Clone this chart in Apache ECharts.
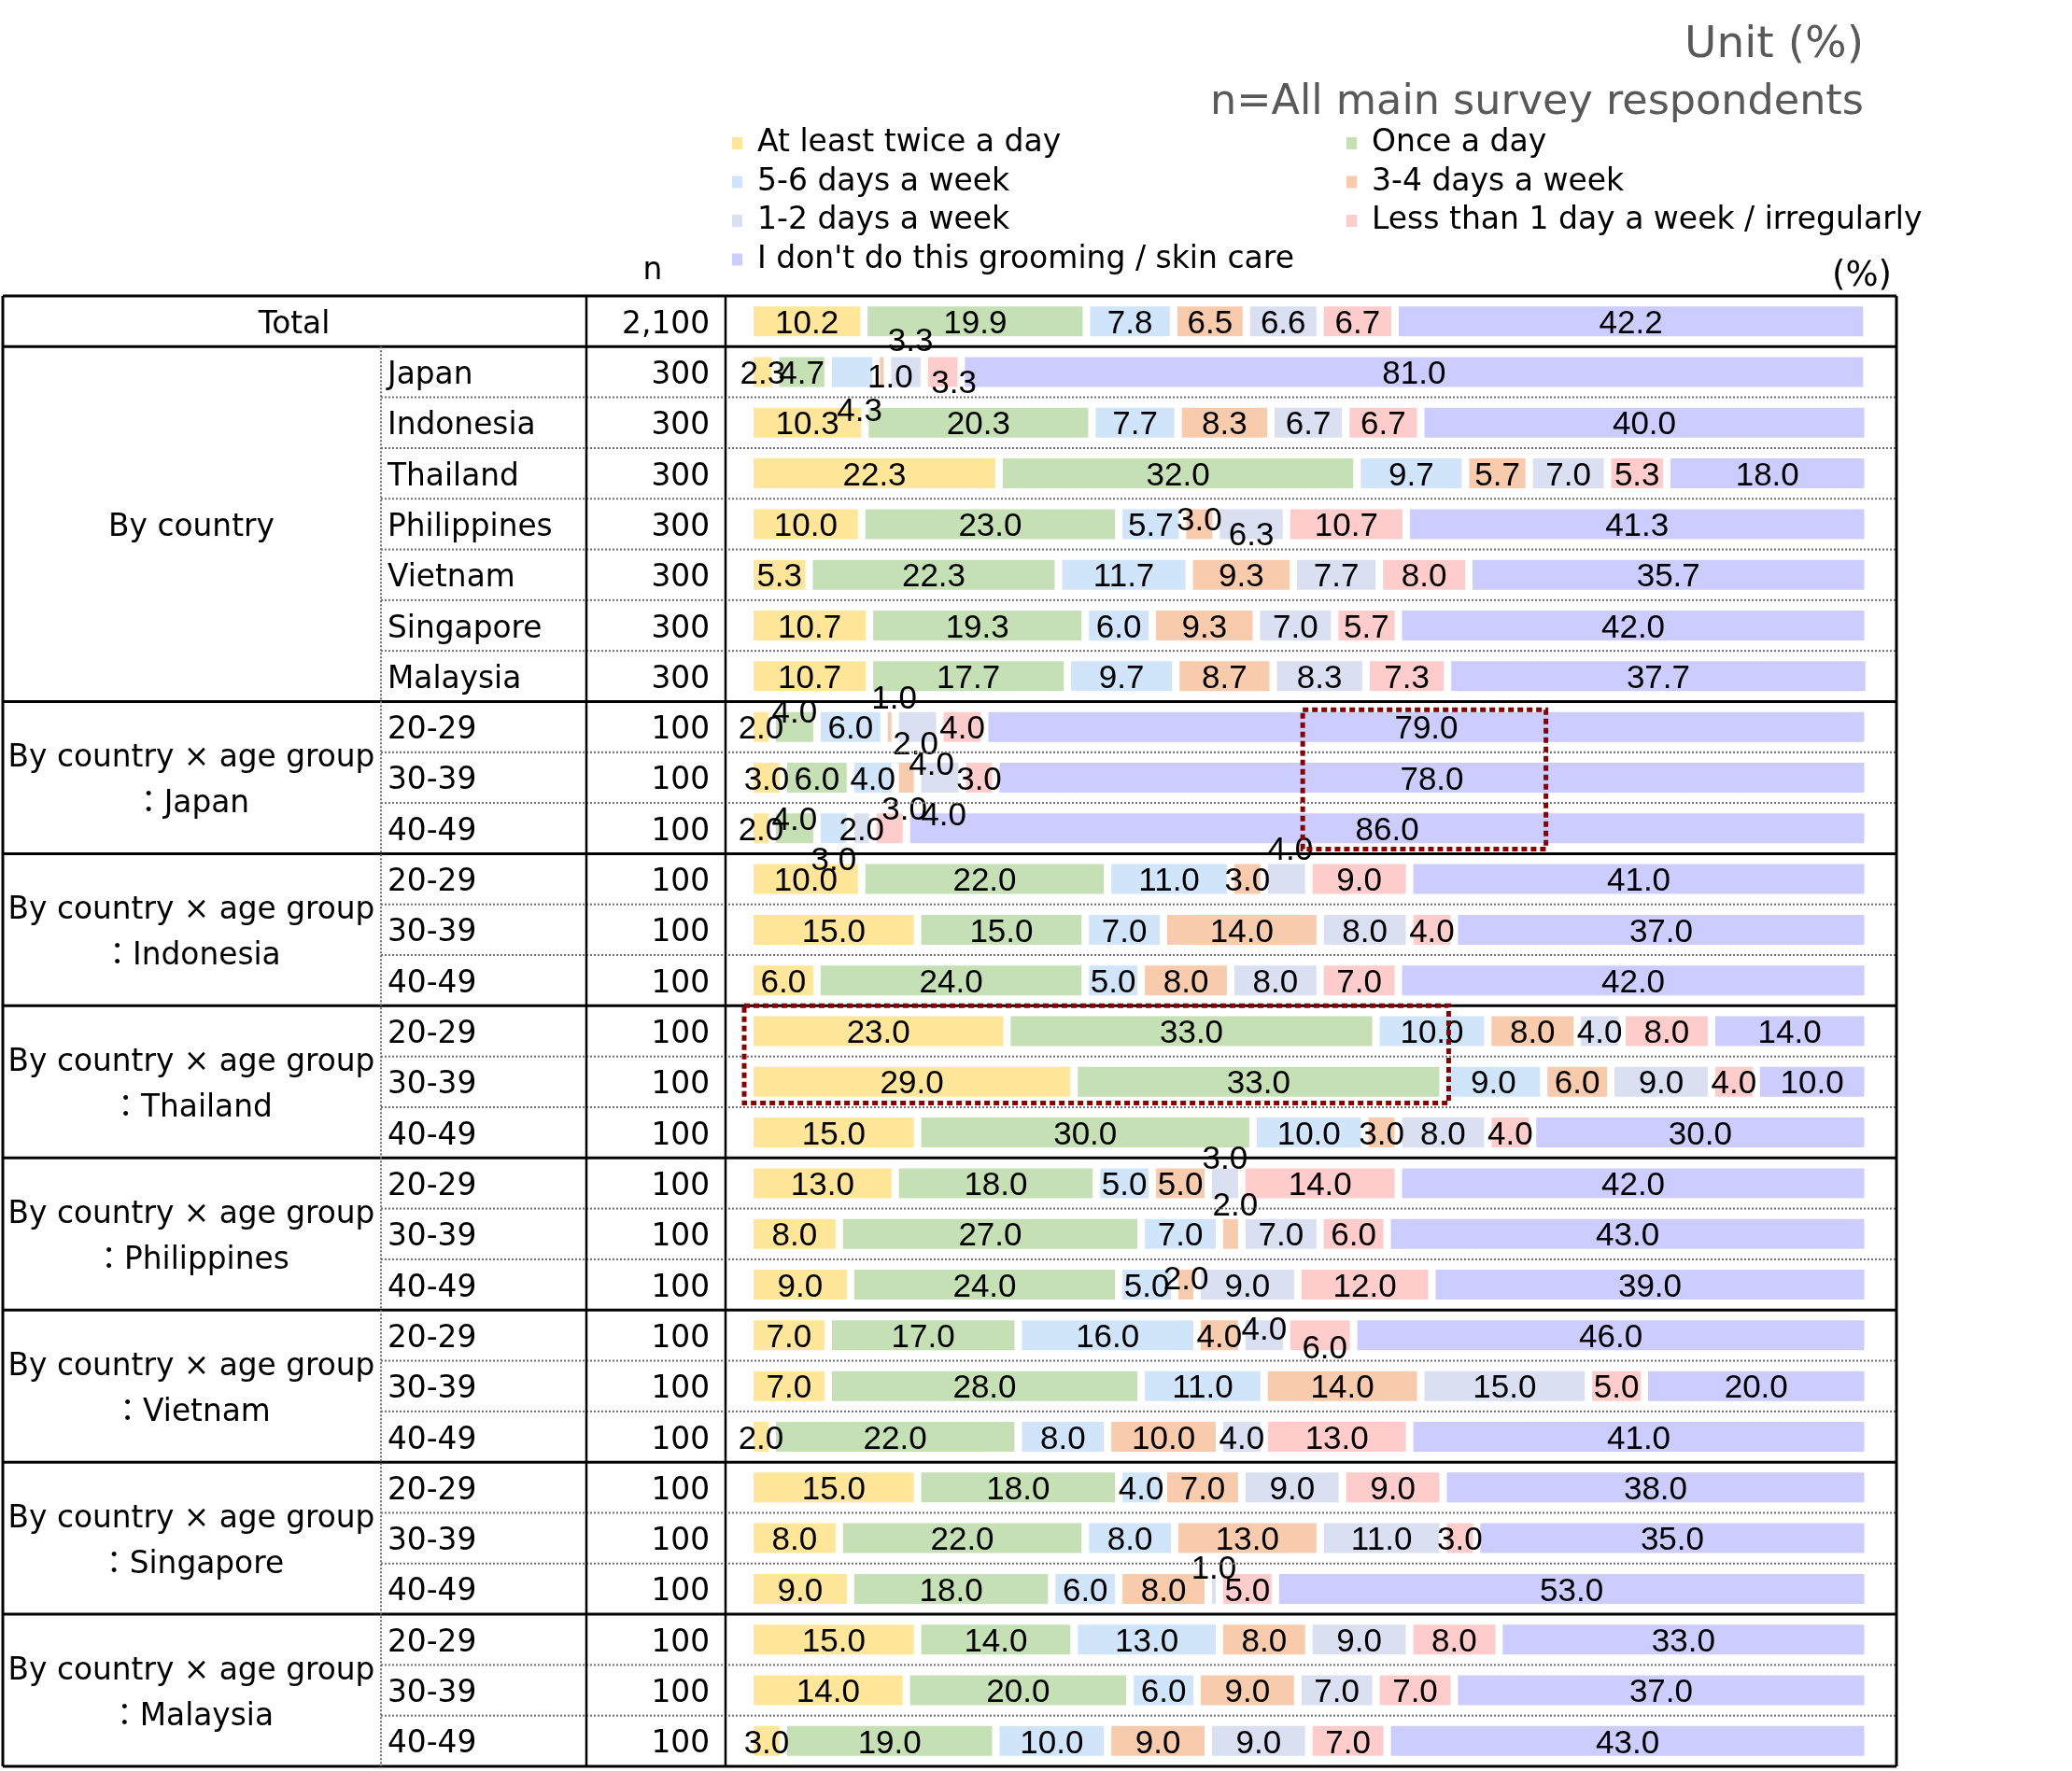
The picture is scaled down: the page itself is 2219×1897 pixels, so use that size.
<!DOCTYPE html>
<html>
<head>
<meta charset="utf-8">
<script src="https://cdn.jsdelivr.net/npm/echarts@6.0.0/dist/echarts.min.js"></script>
<style>
html,body{margin:0;padding:0;background:#fff;}
#c{width:2219px;height:1897px;}
</style>
</head>
<body>
<div id="c"></div>
<script>
// ---------------- DATA ----------------
const SERIES_NAMES = [
  'At least twice a day',
  'Once a day',
  '5-6 days a week',
  '3-4 days a week',
  '1-2 days a week',
  'Less than 1 day a week / irregularly',
  "I don't do this grooming / skin care"
];
const COUNTRIES = ['Japan', 'Indonesia', 'Thailand', 'Philippines', 'Vietnam', 'Singapore', 'Malaysia'];
const AGE_GROUPS = ['20-29', '30-39', '40-49'];
const TOTAL_LABEL = 'Total';
const BY_COUNTRY_LABEL = 'By country';
const BY_AGE_LABEL = 'By country × age group';
const N_TOTAL = '2,100';
const N_COUNTRY = '300';
const N_AGE = '100';

// rows: Total, 7 countries, then 7 countries x 3 age groups
const TWICE_A_DAY  = [10.2, 2.3, 10.3, 22.3, 10.0, 5.3, 10.7, 10.7,  2, 3, 2,  10, 15, 6,  23, 29, 15,  13, 8, 9,  7, 7, 2,  15, 8, 9,  15, 14, 3];
const ONCE_A_DAY   = [19.9, 4.7, 20.3, 32.0, 23.0, 22.3, 19.3, 17.7,  4, 6, 4,  22, 15, 24,  33, 33, 30,  18, 27, 24,  17, 28, 22,  18, 22, 18,  14, 20, 19];
const DAYS_5_6     = [7.8, 4.3, 7.7, 9.7, 5.7, 11.7, 6.0, 9.7,  6, 4, 3,  11, 7, 5,  10, 9, 10,  5, 7, 5,  16, 11, 8,  4, 8, 6,  13, 6, 10];
const DAYS_3_4     = [6.5, 1.0, 8.3, 5.7, 3.0, 9.3, 9.3, 8.7,  1, 2, 0,  3, 14, 8,  8, 6, 3,  5, 2, 2,  4, 14, 10,  7, 13, 8,  8, 9, 9];
const DAYS_1_2     = [6.6, 3.3, 6.7, 7.0, 6.3, 7.7, 7.0, 8.3,  4, 4, 2,  4, 8, 8,  4, 9, 8,  3, 7, 9,  4, 15, 4,  9, 11, 1,  9, 7, 9];
const LESS_THAN_1  = [6.7, 3.3, 6.7, 5.3, 10.7, 8.0, 5.7, 7.3,  4, 3, 3,  9, 4, 7,  8, 4, 4,  14, 6, 12,  6, 5, 13,  9, 3, 5,  8, 7, 7];
const DONT_DO      = [42.2, 81.0, 40.0, 18.0, 41.3, 35.7, 42.0, 37.7,  79, 78, 86,  41, 37, 42,  14, 10, 30,  42, 43, 39,  46, 20, 41,  38, 35, 53,  33, 37, 43];
const SERIES_VALUES = [TWICE_A_DAY, ONCE_A_DAY, DAYS_5_6, DAYS_3_4, DAYS_1_2, LESS_THAN_1, DONT_DO];

// ---------------- STYLE / LAYOUT ----------------
const COLORS = ['#FFE699', '#C5E0B4', '#D0E5FA', '#F8CBAD', '#DAE0F2', '#FFCCCC', '#CCCCFF'];
const FONT_TABLE = '"DejaVu Sans","Noto Sans CJK JP",sans-serif';
const FONT_NUM = '"Liberation Sans",Arial,sans-serif';
const GRID = {left: 803, top: 317, width: 1197.5, height: 1575};
const TEXT_SHIFT = 4; // table texts sit slightly below the row centre
const TABLE = {left: 3, col1: 408, col2: 628, col3: 777, right: 2031};
const SUB_X = 415, N_X = 760, GROUP_X = 205, TOTAL_X = 315;
const TABLE_FONT_SIZE = 32.8;
// label nudges copied from the reference's label collision placement: [row, series, dx, dy]
const LABEL_BASE_DY = 3;
const LABEL_NUDGES = [
  [1,2,8,40],[1,4,5,-35],[1,5,12,10],[1,3,9,4],
  [4,3,0,-6],[4,4,0,10],
  [8,1,0,-17],[8,3,5,-32],[8,4,15,39],
  [9,3,10,-38],[9,4,4,38],
  [10,1,0,-11],[10,2,0,32],[10,5,16,-22],
  [11,4,4,-33],
  [17,4,0,-28],[18,3,5,-32],[19,3,0,-8],
  [20,4,0,-8],[20,5,5,12],
  [25,4,0,-24]
];
// annotation boxes: [xFrom%, xTo%, firstRow, lastRow, topInset(rows), bottomInset(rows)]
const BOXES = [
  [49.45, 71.2, 8, 10, 0.16, 0.09],
  [-0.5, 62.5, 14, 15, 0.0, 0.08]
];

// ---------------- BUILD ROWS ----------------
const SUB_ROWS = [''].concat(COUNTRIES);
const N_ROWS = [N_TOTAL].concat(COUNTRIES.map(() => N_COUNTRY));
const GROUP_ROWS = ['', '', '', '', BY_COUNTRY_LABEL, '', '', ''];
COUNTRIES.forEach(c => {
  AGE_GROUPS.forEach((a, j) => {
    SUB_ROWS.push(a);
    N_ROWS.push(N_AGE);
    GROUP_ROWS.push(j === 1 ? BY_AGE_LABEL + '\n：' + c : '');
  });
});
const ROWS = SUB_ROWS.length;
const rowIds = SUB_ROWS.map((_, i) => String(i));

const nudgeMap = {};
LABEL_NUDGES.forEach(([r, s, dx, dy]) => { nudgeMap[r + '_' + s] = [dx, dy]; });

const series = SERIES_VALUES.map((vals, s) => ({
  name: SERIES_NAMES[s],
  type: 'bar',
  stack: 'all',
  barWidth: 40,
  xAxisIndex: 0, yAxisIndex: 0,
  itemStyle: {color: COLORS[s], borderColor: '#ffffff', borderWidth: 4},
  label: {
    show: true, position: 'inside', color: '#000', fontFamily: FONT_NUM, fontSize: 35,
    textBorderWidth: 0, offset: [0, LABEL_BASE_DY],
    formatter: p => (p.value > 0 ? Number(p.value).toFixed(1) : '')
  },
  emphasis: {disabled: true},
  data: vals.map((v, r) => {
    const n = nudgeMap[r + '_' + s];
    return n ? {value: v, label: {offset: [n[0], n[1] + LABEL_BASE_DY]}} : v;
  })
}));

function labelAxis(texts, x, align, extra) {
  return {
    type: 'category', data: rowIds, inverse: true, gridIndex: 1, position: 'left',
    axisLine: {show: false}, axisTick: {show: false}, splitLine: {show: false},
    axisLabel: Object.assign({
      interval: 0, margin: GRID.left - x, align: align,
      formatter: (v, i) => texts[i], color: '#000', fontFamily: FONT_TABLE, fontSize: TABLE_FONT_SIZE
    }, extra || {})
  };
}

const legendCommon = {
  orient: 'vertical', itemWidth: 13, itemHeight: 15, itemGap: 8.5, icon: 'rect',
  selectedMode: false, padding: 0,
  textStyle: {fontFamily: FONT_TABLE, fontSize: 33, color: '#000', padding: [0, 0, 0, 10]}
};

const chart = echarts.init(document.getElementById('c'));
chart.setOption({
  animation: false,
  backgroundColor: '#fff',
  grid: [
    {left: GRID.left, top: GRID.top, width: GRID.width, height: GRID.height, containLabel: false, outerBoundsMode: 'none'},
    {left: GRID.left, top: GRID.top + TEXT_SHIFT, width: GRID.width, height: GRID.height, containLabel: false, outerBoundsMode: 'none'}
  ],
  xAxis: [
    {type: 'value', min: 0, max: 100, show: false, gridIndex: 0},
    {type: 'value', min: 0, max: 100, show: false, gridIndex: 1}
  ],
  yAxis: [
    {type: 'category', data: rowIds, inverse: true, gridIndex: 0, axisLine: {show: false}, axisTick: {show: false}, axisLabel: {show: false}, splitLine: {show: false}},
    labelAxis(SUB_ROWS, SUB_X, 'left'),
    labelAxis(N_ROWS, N_X, 'right'),
    labelAxis(GROUP_ROWS, GROUP_X, 'center', {lineHeight: 49}),
    labelAxis(SUB_ROWS.map((_, i) => (i === 0 ? TOTAL_LABEL : '')), TOTAL_X, 'center')
  ],
  legend: [
    Object.assign({left: 782, top: 137, data: [SERIES_NAMES[0], SERIES_NAMES[2], SERIES_NAMES[4], SERIES_NAMES[6]]}, legendCommon),
    Object.assign({left: 1440, top: 137, data: [SERIES_NAMES[1], SERIES_NAMES[3], SERIES_NAMES[5]]}, legendCommon)
  ],
  series: series
});

// ---------------- TABLE LINES, TEXTS, BOXES ----------------
const c0 = chart.convertToPixel({yAxisIndex: 0}, 0);
const c1 = chart.convertToPixel({yAxisIndex: 0}, 1);
const ROW_H = c1 - c0;
const rowTop = k => c0 - ROW_H / 2 + k * ROW_H;
const THICK = [0, 1, 8, 11, 14, 17, 20, 23, 26, ROWS];
const graphics = [];
function line(x1, y1, x2, y2, dotted, w) {
  graphics.push({
    type: 'line', silent: true, z: 50,
    shape: {x1: x1, y1: y1, x2: x2, y2: y2},
    style: dotted ? {stroke: '#6e6e6e', lineWidth: 2, lineDash: [2, 2]} : {stroke: '#000', lineWidth: w || 3}
  });
}
for (let k = 0; k <= ROWS; k++) {
  if (THICK.indexOf(k) >= 0) line(TABLE.left, rowTop(k), TABLE.right, rowTop(k), false, 3);
  else line(TABLE.col1, rowTop(k), TABLE.right, rowTop(k), true);
}
line(TABLE.left, rowTop(0), TABLE.left, rowTop(ROWS), false, 3);
line(TABLE.col1, rowTop(1), TABLE.col1, rowTop(ROWS), true);
line(TABLE.col2, rowTop(0), TABLE.col2, rowTop(ROWS), false, 2.5);
line(TABLE.col3, rowTop(0), TABLE.col3, rowTop(ROWS), false, 2.5);
line(TABLE.right, rowTop(0), TABLE.right, rowTop(ROWS), false, 3);

BOXES.forEach(([x1p, x2p, r1, r2, ti, bi]) => {
  const x1 = chart.convertToPixel({xAxisIndex: 0}, x1p);
  const x2 = chart.convertToPixel({xAxisIndex: 0}, x2p);
  const y1 = rowTop(r1) + ti * ROW_H;
  const y2 = rowTop(r2 + 1) - bi * ROW_H;
  graphics.push({
    type: 'rect', silent: true, z: 60,
    shape: {x: x1, y: y1, width: x2 - x1, height: y2 - y1},
    style: {fill: 'transparent', stroke: '#8B0000', lineWidth: 5, lineDash: [6, 4]}
  });
});

function text(str, x, y, align, size, color) {
  graphics.push({
    type: 'text', silent: true, z: 60, x: x, y: y,
    style: {text: str, align: align, verticalAlign: 'middle', fontFamily: FONT_TABLE, fontSize: size, fill: color}
  });
}
text('Unit (%)', 1996, 49, 'right', 47, '#595959');
text('n=All main survey respondents', 1996, 110, 'right', 44.5, '#595959');
text('n', 699, 290, 'center', 32.8, '#000');
text('(%)', 2026, 296, 'right', 37, '#000');

chart.setOption({graphic: graphics});
</script>
</body>
</html>
